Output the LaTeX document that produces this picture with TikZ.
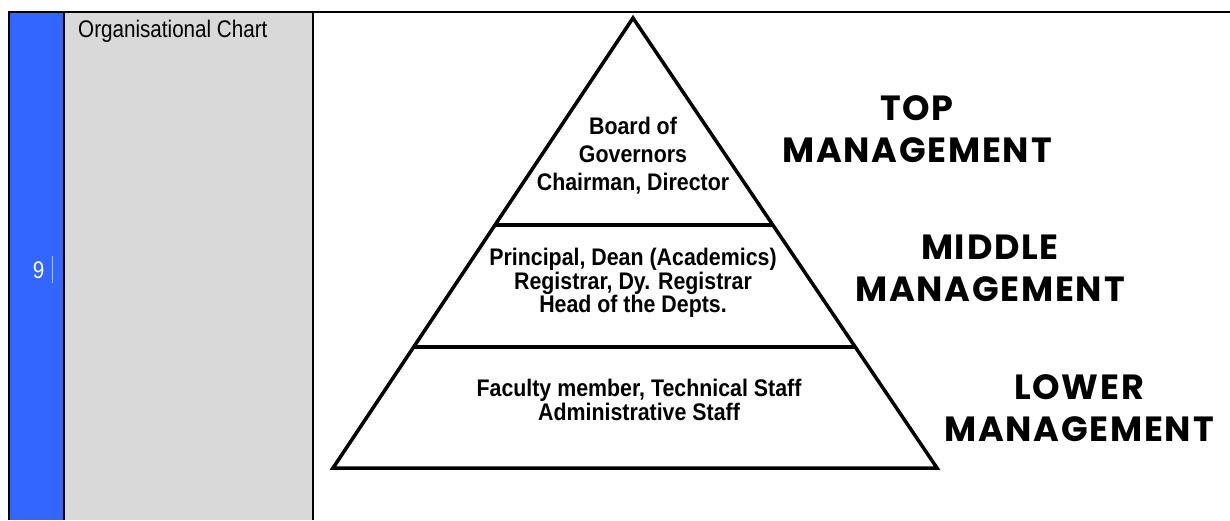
\documentclass[tikz,border=0pt]{standalone}
\usepackage{fontspec}
\setmainfont{Liberation Sans}
\newfontfamily\cellfont{Liberation Sans}[FakeStretch=0.86]
\newfontfamily\tierfont{Liberation Sans}[FakeStretch=0.89]
\newfontfamily\mgmtfont{Poppins}[LetterSpace=5]
\usetikzlibrary{calc}
\definecolor{rowblue}{HTML}{3366FF}
\definecolor{cellgrey}{HTML}{D9D9D9}

\begin{document}
\begin{tikzpicture}[x=1pt,y=-1pt,
    tier/.style={align=center,inner sep=0pt,font=\tierfont\bfseries\fontsize{24}{22}\selectfont},
    level/.style={align=center,inner sep=0pt,font=\mgmtfont\bfseries\fontsize{35}{42}\selectfont},
    rule/.style={line width=2.5pt}]
  \useasboundingbox (0,0) rectangle (1230,520);

  % table row
  \fill[rowblue] (9,12) rectangle (64,520);
  \fill[cellgrey] (64,12) rectangle (313,520);
  \draw[rule] (9,520) -- (9,12) -- (1230,12);
  \draw[rule] (64,12) -- (64,520);
  \draw[rule] (313,12) -- (313,520);
  \draw[white!85!black, line width=0.8pt] (300,14) -- (300,70);
  \draw[white!60!rowblue, line width=0.8pt] (52,256) -- (52,283);
  \node[anchor=base west, inner sep=0pt, font=\cellfont\fontsize{24}{26}\selectfont] (title) at (78,37) {Organisational Chart};
  \node[anchor=base, text=white, inner sep=0pt, font=\cellfont\fontsize{24}{26}\selectfont] (num) at (38.5,278) {9};

  % pyramid
  \coordinate (apex) at (633,18);
  \coordinate (bl) at (333,468);
  \coordinate (br) at (937,468);
  \draw[line width=3.5pt] (apex) -- (br) -- (bl) -- cycle;
  \draw[line width=4pt] ($(apex)!0.46!(bl)$) -- ($(apex)!0.46!(br)$);
  \draw[line width=4pt] ($(apex)!0.731!(bl)$) -- ($(apex)!0.731!(br)$);

  \node[tier, font=\tierfont\bfseries\fontsize{24}{28}\selectfont] (board) at (633,156) {Board of\\Governors\\Chairman, Director};
  \node[tier] (dean) at (633,283) {Principal, Dean (Academics)\\Registrar, Dy. Registrar\\Head of the Depts.};
  \node[tier] (staff) at (639,400) {Faculty member, Technical Staff\\Administrative Staff};

  % levels
  \node[level] (top) at (917,129) {TOP\\MANAGEMENT};
  \node[level] (middle) at (990,268) {MIDDLE\\MANAGEMENT};
  \node[level] (lower) at (1079,408) {LOWER\\MANAGEMENT};
\end{tikzpicture}
\end{document}
